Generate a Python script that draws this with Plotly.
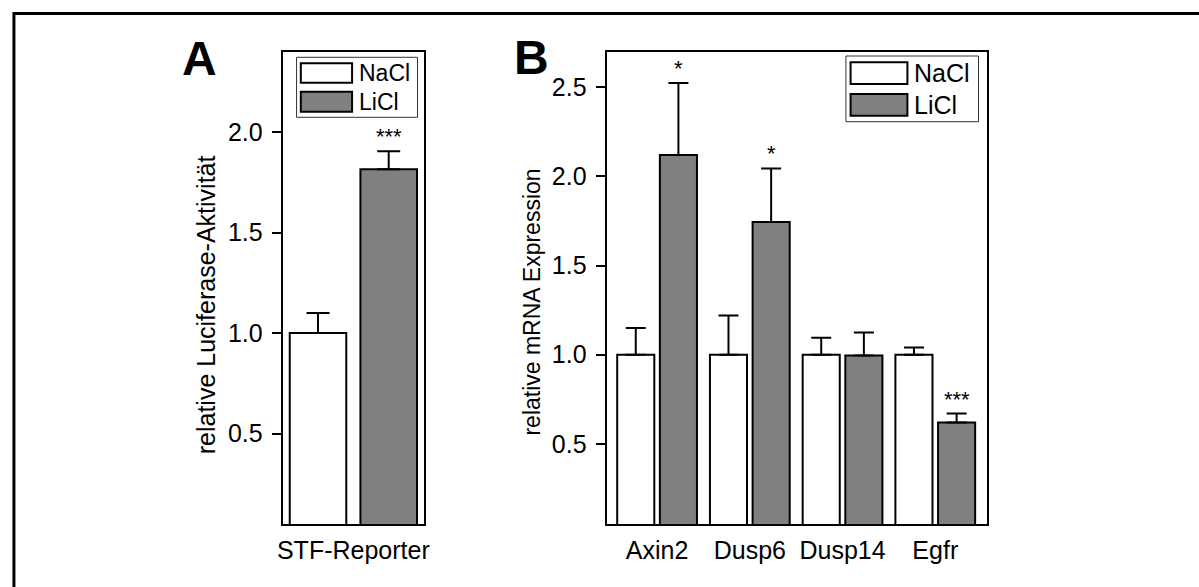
import plotly.graph_objects as go

# ---------------- data ----------------
A_categories = ["STF-Reporter"]
A_nacl = [1.0]
A_nacl_err = [0.10]
A_licl = [1.815]
A_licl_err = [0.09]
A_stars = ["***"]

B_categories = ["Axin2", "Dusp6", "Dusp14", "Egfr"]
B_nacl = [1.0, 1.0, 1.0, 1.0]
B_nacl_err = [0.15, 0.22, 0.095, 0.04]
B_licl = [2.12, 1.745, 0.995, 0.62]
B_licl_err = [0.405, 0.30, 0.13, 0.05]
B_stars = ["*", "*", "", "***"]

A_yticks = [0.5, 1.0, 1.5, 2.0]
B_yticks = [0.5, 1.0, 1.5, 2.0, 2.5]
series_names = ["NaCl", "LiCl"]
A_ytitle = "relative Luciferase-Aktivität"
B_ytitle = "relative mRNA Expression"

# ---------------- style ----------------
W, H = 1199, 587
FONT = "Liberation Sans, Arial, Helvetica, sans-serif"
GRAY = "#808080"
BAR_W = 0.40


def px(x):
    return x / W


def py(y):
    return 1 - y / H


fig = go.Figure()

def add_bars(cats, vals, errs, name, color, offset, xa, ya, capw):
    fig.add_trace(go.Bar(
        x=cats, y=vals, name=name, width=[BAR_W] * len(cats), offset=[offset] * len(cats),
        marker=dict(color=color, line=dict(color="black", width=2)),
        error_y=dict(type="data", symmetric=False, array=errs, arrayminus=[0] * len(cats),
                     color="black", thickness=2, width=capw),
        xaxis=xa, yaxis=ya, showlegend=False))

A_OFF = (-0.45, 0.05)
B_OFF = (-0.43, 0.03)
add_bars(A_categories, A_nacl, A_nacl_err, "NaCl", "white", A_OFF[0], "x", "y", 11.5)
add_bars(A_categories, A_licl, A_licl_err, "LiCl", GRAY, A_OFF[1], "x", "y", 11.5)
add_bars(B_categories, B_nacl, B_nacl_err, "NaCl", "white", B_OFF[0], "x2", "y2", 10)
add_bars(B_categories, B_licl, B_licl_err, "LiCl", GRAY, B_OFF[1], "x2", "y2", 10)

ydom = [py(524), py(51.7)]
axis_common = dict(showline=True, linecolor="black", linewidth=2, mirror=True,
                   showgrid=False, zeroline=False)
xcommon = dict(axis_common, ticks="", tickfont=dict(family=FONT, size=25, color="black"),
               ticklabelstandoff=3)
ycommon = dict(axis_common, ticks="outside", ticklen=9, tickwidth=2, tickcolor="black",
               tickformat=".1f", tickfont=dict(family=FONT, size=25, color="black"),
               ticklabelstandoff=4)

fig.update_layout(
    width=W, height=H, margin=dict(l=0, r=0, t=0, b=0),
    paper_bgcolor="white", plot_bgcolor="white",
    barmode="overlay",
    xaxis=dict(xcommon, domain=[px(280), px(423)], range=[-0.5, 0.503], anchor="y"),
    yaxis=dict(ycommon, domain=ydom, range=[0.05, 2.4], tickvals=A_yticks, anchor="x"),
    xaxis2=dict(xcommon, domain=[px(606.7), px(990)], range=[-0.544, 3.555], anchor="y2"),
    yaxis2=dict(ycommon, domain=ydom, range=[0.05, 2.7], tickvals=B_yticks, anchor="x2"),
)

annotations = []
# y-axis titles (rotated text)
annotations.append(dict(x=px(203), y=py(305), xref="paper", yref="paper", text=A_ytitle,
                        textangle=-90, showarrow=False, xanchor="center", yanchor="middle",
                        font=dict(family=FONT, size=25, color="black")))
annotations.append(dict(x=px(531), y=py(302), xref="paper", yref="paper", text=B_ytitle,
                        textangle=-90, showarrow=False, xanchor="center", yanchor="middle",
                        font=dict(family=FONT, size=23, color="black")))

# significance stars
for i, s in enumerate(A_stars):
    if s:
        annotations.append(dict(x=i + A_OFF[1] + BAR_W / 2, y=A_licl[i] + A_licl_err[i],
                                xref="x", yref="y", text=s, showarrow=False,
                                yanchor="bottom", yshift=0,
                                font=dict(family=FONT, size=22, color="black")))
for i, s in enumerate(B_stars):
    if s:
        annotations.append(dict(x=i + B_OFF[1] + BAR_W / 2, y=B_licl[i] + B_licl_err[i],
                                xref="x2", yref="y2", text=s, showarrow=False,
                                yanchor="bottom", yshift=0,
                                font=dict(family=FONT, size=22, color="black")))

# panel letters
annotations.append(dict(x=px(196.5), y=py(59), xref="paper", yref="paper", text="<b>A</b>",
                        showarrow=False, xanchor="center", yanchor="middle",
                        font=dict(family=FONT, size=48, color="black")))
annotations.append(dict(x=px(531), y=py(57.5), xref="paper", yref="paper", text="<b>B</b>",
                        showarrow=False, xanchor="center", yanchor="middle",
                        font=dict(family=FONT, size=48, color="black")))

shapes = []
# outer frame (cropped at right/bottom)
shapes.append(dict(type="rect", xref="paper", yref="paper", x0=px(9), y0=-0.1, x1=1.1, y1=py(13.5),
                   line=dict(color="black", width=3), fillcolor="rgba(0,0,0,0)"))

# hand-drawn legends
def legend(frame, sw_x, rows, text_x, fsize):
    fx0, fy0, fx1, fy1 = frame
    shapes.append(dict(type="rect", xref="paper", yref="paper", x0=px(fx0), x1=px(fx1),
                       y0=py(fy1), y1=py(fy0), line=dict(color="#333333", width=1),
                       fillcolor="white", layer="above"))
    for (y0, y1), name, col in zip(rows, series_names, ["white", GRAY]):
        shapes.append(dict(type="rect", xref="paper", yref="paper", x0=px(sw_x[0]), x1=px(sw_x[1]),
                           y0=py(y1), y1=py(y0), line=dict(color="black", width=2),
                           fillcolor=col, layer="above"))
        annotations.append(dict(x=px(text_x), y=py((y0 + y1) / 2), xref="paper", yref="paper",
                                text=name, showarrow=False, xanchor="left", yanchor="middle",
                                font=dict(family=FONT, size=fsize, color="black")))

legend((294, 57.3, 416, 117.3), (298.3, 350), [(63.3, 82.7), (91.7, 111.7)], 355, 23)
legend((848, 56, 981.7, 121.7), (852.7, 910), [(62.3, 84), (94, 115.7)], 915, 25)

fig.update_layout(annotations=annotations, shapes=shapes)

fig.write_html("out.html", config={"displayModeBar": False},
               post_script="document.body.style.margin='0';document.body.style.overflow='hidden';")
